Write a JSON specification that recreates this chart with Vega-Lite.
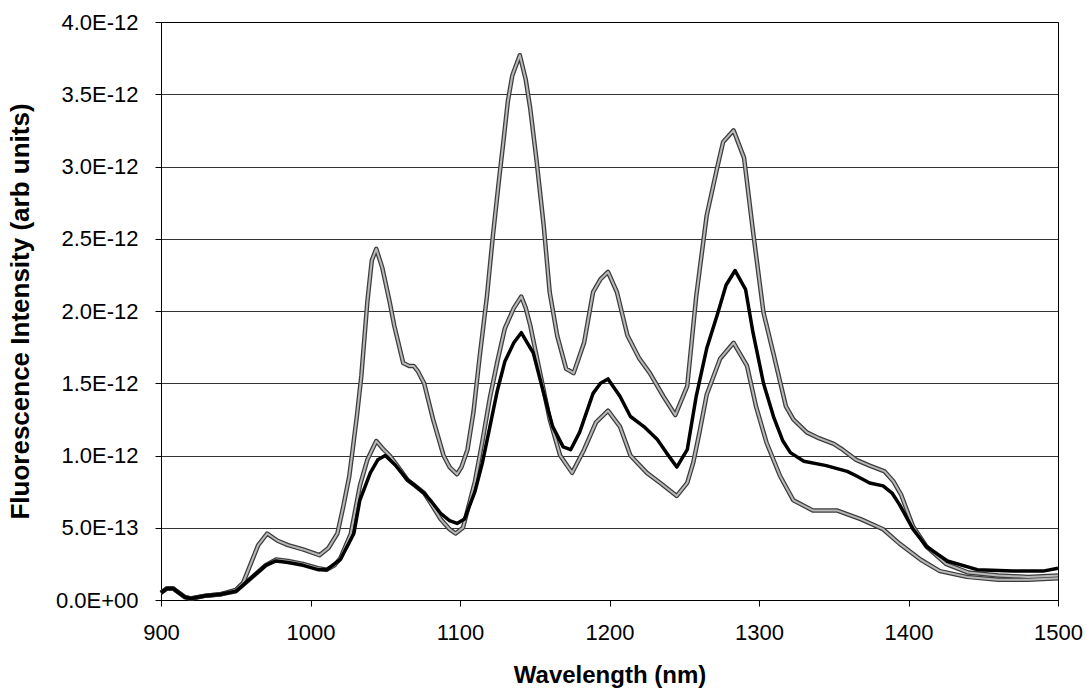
{
  "$schema": "https://vega.github.io/schema/vega-lite/v6.json",
  "autosize": {"type": "none"},
  "padding": {"left": 161, "top": 22, "right": 29, "bottom": 93},
  "width": 897,
  "height": 578,
  "background": "white",
  "config": {
    "font": "Liberation Sans",
    "view": {"stroke": "#000000", "strokeWidth": 1}
  },
  "data": {
    "values": [
      {"series": "upper", "wavelength": 900, "intensity": 0.05e-12},
      {"series": "upper", "wavelength": 904, "intensity": 0.08e-12},
      {"series": "upper", "wavelength": 908, "intensity": 0.08e-12},
      {"series": "upper", "wavelength": 912, "intensity": 0.05e-12},
      {"series": "upper", "wavelength": 916, "intensity": 0.02e-12},
      {"series": "upper", "wavelength": 920, "intensity": 0.01e-12},
      {"series": "upper", "wavelength": 930, "intensity": 0.03e-12},
      {"series": "upper", "wavelength": 940, "intensity": 0.04e-12},
      {"series": "upper", "wavelength": 950, "intensity": 0.07e-12},
      {"series": "upper", "wavelength": 955, "intensity": 0.12e-12},
      {"series": "upper", "wavelength": 960, "intensity": 0.25e-12},
      {"series": "upper", "wavelength": 965, "intensity": 0.38e-12},
      {"series": "upper", "wavelength": 971, "intensity": 0.46e-12},
      {"series": "upper", "wavelength": 978, "intensity": 0.41e-12},
      {"series": "upper", "wavelength": 985, "intensity": 0.38e-12},
      {"series": "upper", "wavelength": 995, "intensity": 0.35e-12},
      {"series": "upper", "wavelength": 1006, "intensity": 0.31e-12},
      {"series": "upper", "wavelength": 1012, "intensity": 0.36e-12},
      {"series": "upper", "wavelength": 1018, "intensity": 0.46e-12},
      {"series": "upper", "wavelength": 1022, "intensity": 0.65e-12},
      {"series": "upper", "wavelength": 1026, "intensity": 0.86e-12},
      {"series": "upper", "wavelength": 1031, "intensity": 1.27e-12},
      {"series": "upper", "wavelength": 1034, "intensity": 1.55e-12},
      {"series": "upper", "wavelength": 1038, "intensity": 2.06e-12},
      {"series": "upper", "wavelength": 1041, "intensity": 2.35e-12},
      {"series": "upper", "wavelength": 1044, "intensity": 2.43e-12},
      {"series": "upper", "wavelength": 1048, "intensity": 2.30e-12},
      {"series": "upper", "wavelength": 1053, "intensity": 2.06e-12},
      {"series": "upper", "wavelength": 1056, "intensity": 1.90e-12},
      {"series": "upper", "wavelength": 1062, "intensity": 1.64e-12},
      {"series": "upper", "wavelength": 1066, "intensity": 1.62e-12},
      {"series": "upper", "wavelength": 1069, "intensity": 1.62e-12},
      {"series": "upper", "wavelength": 1072, "intensity": 1.58e-12},
      {"series": "upper", "wavelength": 1076, "intensity": 1.50e-12},
      {"series": "upper", "wavelength": 1082, "intensity": 1.25e-12},
      {"series": "upper", "wavelength": 1089, "intensity": 1.00e-12},
      {"series": "upper", "wavelength": 1093, "intensity": 0.92e-12},
      {"series": "upper", "wavelength": 1098, "intensity": 0.87e-12},
      {"series": "upper", "wavelength": 1101, "intensity": 0.92e-12},
      {"series": "upper", "wavelength": 1105, "intensity": 1.04e-12},
      {"series": "upper", "wavelength": 1109, "intensity": 1.30e-12},
      {"series": "upper", "wavelength": 1113, "intensity": 1.67e-12},
      {"series": "upper", "wavelength": 1118, "intensity": 2.10e-12},
      {"series": "upper", "wavelength": 1122, "intensity": 2.52e-12},
      {"series": "upper", "wavelength": 1126, "intensity": 2.90e-12},
      {"series": "upper", "wavelength": 1129, "intensity": 3.17e-12},
      {"series": "upper", "wavelength": 1132, "intensity": 3.45e-12},
      {"series": "upper", "wavelength": 1135, "intensity": 3.63e-12},
      {"series": "upper", "wavelength": 1140, "intensity": 3.77e-12},
      {"series": "upper", "wavelength": 1144, "intensity": 3.60e-12},
      {"series": "upper", "wavelength": 1147, "intensity": 3.40e-12},
      {"series": "upper", "wavelength": 1151, "intensity": 3.06e-12},
      {"series": "upper", "wavelength": 1156, "intensity": 2.59e-12},
      {"series": "upper", "wavelength": 1160, "intensity": 2.13e-12},
      {"series": "upper", "wavelength": 1165, "intensity": 1.83e-12},
      {"series": "upper", "wavelength": 1171, "intensity": 1.60e-12},
      {"series": "upper", "wavelength": 1176, "intensity": 1.57e-12},
      {"series": "upper", "wavelength": 1183, "intensity": 1.78e-12},
      {"series": "upper", "wavelength": 1189, "intensity": 2.13e-12},
      {"series": "upper", "wavelength": 1194, "intensity": 2.22e-12},
      {"series": "upper", "wavelength": 1199, "intensity": 2.27e-12},
      {"series": "upper", "wavelength": 1205, "intensity": 2.13e-12},
      {"series": "upper", "wavelength": 1212, "intensity": 1.83e-12},
      {"series": "upper", "wavelength": 1220, "intensity": 1.67e-12},
      {"series": "upper", "wavelength": 1227, "intensity": 1.57e-12},
      {"series": "upper", "wavelength": 1236, "intensity": 1.41e-12},
      {"series": "upper", "wavelength": 1244, "intensity": 1.28e-12},
      {"series": "upper", "wavelength": 1252, "intensity": 1.48e-12},
      {"series": "upper", "wavelength": 1258, "intensity": 2.10e-12},
      {"series": "upper", "wavelength": 1265, "intensity": 2.66e-12},
      {"series": "upper", "wavelength": 1272, "intensity": 2.99e-12},
      {"series": "upper", "wavelength": 1276, "intensity": 3.17e-12},
      {"series": "upper", "wavelength": 1283, "intensity": 3.25e-12},
      {"series": "upper", "wavelength": 1290, "intensity": 3.06e-12},
      {"series": "upper", "wavelength": 1296, "intensity": 2.55e-12},
      {"series": "upper", "wavelength": 1303, "intensity": 1.99e-12},
      {"series": "upper", "wavelength": 1310, "intensity": 1.69e-12},
      {"series": "upper", "wavelength": 1318, "intensity": 1.34e-12},
      {"series": "upper", "wavelength": 1323, "intensity": 1.25e-12},
      {"series": "upper", "wavelength": 1332, "intensity": 1.16e-12},
      {"series": "upper", "wavelength": 1340, "intensity": 1.12e-12},
      {"series": "upper", "wavelength": 1350, "intensity": 1.08e-12},
      {"series": "upper", "wavelength": 1356, "intensity": 1.04e-12},
      {"series": "upper", "wavelength": 1365, "intensity": 0.97e-12},
      {"series": "upper", "wavelength": 1374, "intensity": 0.93e-12},
      {"series": "upper", "wavelength": 1384, "intensity": 0.89e-12},
      {"series": "upper", "wavelength": 1390, "intensity": 0.82e-12},
      {"series": "upper", "wavelength": 1395, "intensity": 0.73e-12},
      {"series": "upper", "wavelength": 1403, "intensity": 0.51e-12},
      {"series": "upper", "wavelength": 1412, "intensity": 0.37e-12},
      {"series": "upper", "wavelength": 1425, "intensity": 0.25e-12},
      {"series": "upper", "wavelength": 1440, "intensity": 0.19e-12},
      {"series": "upper", "wavelength": 1460, "intensity": 0.17e-12},
      {"series": "upper", "wavelength": 1480, "intensity": 0.16e-12},
      {"series": "upper", "wavelength": 1500, "intensity": 0.17e-12},

      {"series": "lower", "wavelength": 900, "intensity": 0.05e-12},
      {"series": "lower", "wavelength": 904, "intensity": 0.08e-12},
      {"series": "lower", "wavelength": 908, "intensity": 0.08e-12},
      {"series": "lower", "wavelength": 912, "intensity": 0.05e-12},
      {"series": "lower", "wavelength": 916, "intensity": 0.02e-12},
      {"series": "lower", "wavelength": 920, "intensity": 0.01e-12},
      {"series": "lower", "wavelength": 930, "intensity": 0.03e-12},
      {"series": "lower", "wavelength": 940, "intensity": 0.04e-12},
      {"series": "lower", "wavelength": 950, "intensity": 0.06e-12},
      {"series": "lower", "wavelength": 960, "intensity": 0.15e-12},
      {"series": "lower", "wavelength": 970, "intensity": 0.24e-12},
      {"series": "lower", "wavelength": 977, "intensity": 0.28e-12},
      {"series": "lower", "wavelength": 985, "intensity": 0.27e-12},
      {"series": "lower", "wavelength": 995, "intensity": 0.25e-12},
      {"series": "lower", "wavelength": 1005, "intensity": 0.22e-12},
      {"series": "lower", "wavelength": 1011, "intensity": 0.21e-12},
      {"series": "lower", "wavelength": 1016, "intensity": 0.24e-12},
      {"series": "lower", "wavelength": 1020, "intensity": 0.29e-12},
      {"series": "lower", "wavelength": 1027, "intensity": 0.46e-12},
      {"series": "lower", "wavelength": 1033, "intensity": 0.79e-12},
      {"series": "lower", "wavelength": 1038, "intensity": 0.97e-12},
      {"series": "lower", "wavelength": 1044, "intensity": 1.10e-12},
      {"series": "lower", "wavelength": 1049, "intensity": 1.04e-12},
      {"series": "lower", "wavelength": 1053, "intensity": 1.00e-12},
      {"series": "lower", "wavelength": 1058, "intensity": 0.93e-12},
      {"series": "lower", "wavelength": 1065, "intensity": 0.83e-12},
      {"series": "lower", "wavelength": 1070, "intensity": 0.79e-12},
      {"series": "lower", "wavelength": 1076, "intensity": 0.74e-12},
      {"series": "lower", "wavelength": 1081, "intensity": 0.66e-12},
      {"series": "lower", "wavelength": 1087, "intensity": 0.56e-12},
      {"series": "lower", "wavelength": 1093, "intensity": 0.49e-12},
      {"series": "lower", "wavelength": 1097, "intensity": 0.46e-12},
      {"series": "lower", "wavelength": 1102, "intensity": 0.50e-12},
      {"series": "lower", "wavelength": 1110, "intensity": 0.82e-12},
      {"series": "lower", "wavelength": 1115, "intensity": 1.10e-12},
      {"series": "lower", "wavelength": 1120, "intensity": 1.40e-12},
      {"series": "lower", "wavelength": 1125, "intensity": 1.65e-12},
      {"series": "lower", "wavelength": 1130, "intensity": 1.88e-12},
      {"series": "lower", "wavelength": 1136, "intensity": 2.02e-12},
      {"series": "lower", "wavelength": 1141, "intensity": 2.10e-12},
      {"series": "lower", "wavelength": 1144, "intensity": 2.02e-12},
      {"series": "lower", "wavelength": 1147, "intensity": 1.90e-12},
      {"series": "lower", "wavelength": 1154, "intensity": 1.55e-12},
      {"series": "lower", "wavelength": 1160, "intensity": 1.25e-12},
      {"series": "lower", "wavelength": 1167, "intensity": 1.00e-12},
      {"series": "lower", "wavelength": 1175, "intensity": 0.88e-12},
      {"series": "lower", "wavelength": 1183, "intensity": 1.04e-12},
      {"series": "lower", "wavelength": 1191, "intensity": 1.23e-12},
      {"series": "lower", "wavelength": 1199, "intensity": 1.31e-12},
      {"series": "lower", "wavelength": 1207, "intensity": 1.20e-12},
      {"series": "lower", "wavelength": 1214, "intensity": 1.00e-12},
      {"series": "lower", "wavelength": 1225, "intensity": 0.88e-12},
      {"series": "lower", "wavelength": 1234, "intensity": 0.81e-12},
      {"series": "lower", "wavelength": 1245, "intensity": 0.72e-12},
      {"series": "lower", "wavelength": 1252, "intensity": 0.81e-12},
      {"series": "lower", "wavelength": 1256, "intensity": 0.95e-12},
      {"series": "lower", "wavelength": 1260, "intensity": 1.15e-12},
      {"series": "lower", "wavelength": 1265, "intensity": 1.42e-12},
      {"series": "lower", "wavelength": 1274, "intensity": 1.67e-12},
      {"series": "lower", "wavelength": 1283, "intensity": 1.78e-12},
      {"series": "lower", "wavelength": 1292, "intensity": 1.62e-12},
      {"series": "lower", "wavelength": 1298, "intensity": 1.34e-12},
      {"series": "lower", "wavelength": 1305, "intensity": 1.09e-12},
      {"series": "lower", "wavelength": 1314, "intensity": 0.86e-12},
      {"series": "lower", "wavelength": 1323, "intensity": 0.69e-12},
      {"series": "lower", "wavelength": 1336, "intensity": 0.62e-12},
      {"series": "lower", "wavelength": 1352, "intensity": 0.62e-12},
      {"series": "lower", "wavelength": 1368, "intensity": 0.56e-12},
      {"series": "lower", "wavelength": 1383, "intensity": 0.49e-12},
      {"series": "lower", "wavelength": 1394, "intensity": 0.39e-12},
      {"series": "lower", "wavelength": 1408, "intensity": 0.28e-12},
      {"series": "lower", "wavelength": 1421, "intensity": 0.20e-12},
      {"series": "lower", "wavelength": 1439, "intensity": 0.16e-12},
      {"series": "lower", "wavelength": 1460, "intensity": 0.14e-12},
      {"series": "lower", "wavelength": 1480, "intensity": 0.14e-12},
      {"series": "lower", "wavelength": 1500, "intensity": 0.15e-12},

      {"series": "middle", "wavelength": 900, "intensity": 0.05e-12},
      {"series": "middle", "wavelength": 904, "intensity": 0.08e-12},
      {"series": "middle", "wavelength": 908, "intensity": 0.08e-12},
      {"series": "middle", "wavelength": 912, "intensity": 0.05e-12},
      {"series": "middle", "wavelength": 916, "intensity": 0.02e-12},
      {"series": "middle", "wavelength": 920, "intensity": 0.01e-12},
      {"series": "middle", "wavelength": 930, "intensity": 0.03e-12},
      {"series": "middle", "wavelength": 940, "intensity": 0.04e-12},
      {"series": "middle", "wavelength": 950, "intensity": 0.06e-12},
      {"series": "middle", "wavelength": 960, "intensity": 0.15e-12},
      {"series": "middle", "wavelength": 970, "intensity": 0.24e-12},
      {"series": "middle", "wavelength": 977, "intensity": 0.27e-12},
      {"series": "middle", "wavelength": 985, "intensity": 0.26e-12},
      {"series": "middle", "wavelength": 995, "intensity": 0.24e-12},
      {"series": "middle", "wavelength": 1005, "intensity": 0.21e-12},
      {"series": "middle", "wavelength": 1011, "intensity": 0.21e-12},
      {"series": "middle", "wavelength": 1016, "intensity": 0.25e-12},
      {"series": "middle", "wavelength": 1020, "intensity": 0.28e-12},
      {"series": "middle", "wavelength": 1025, "intensity": 0.38e-12},
      {"series": "middle", "wavelength": 1029, "intensity": 0.46e-12},
      {"series": "middle", "wavelength": 1033, "intensity": 0.69e-12},
      {"series": "middle", "wavelength": 1040, "intensity": 0.88e-12},
      {"series": "middle", "wavelength": 1045, "intensity": 0.97e-12},
      {"series": "middle", "wavelength": 1050, "intensity": 1.00e-12},
      {"series": "middle", "wavelength": 1057, "intensity": 0.93e-12},
      {"series": "middle", "wavelength": 1065, "intensity": 0.83e-12},
      {"series": "middle", "wavelength": 1070, "intensity": 0.79e-12},
      {"series": "middle", "wavelength": 1076, "intensity": 0.74e-12},
      {"series": "middle", "wavelength": 1081, "intensity": 0.68e-12},
      {"series": "middle", "wavelength": 1087, "intensity": 0.60e-12},
      {"series": "middle", "wavelength": 1093, "intensity": 0.55e-12},
      {"series": "middle", "wavelength": 1098, "intensity": 0.53e-12},
      {"series": "middle", "wavelength": 1103, "intensity": 0.56e-12},
      {"series": "middle", "wavelength": 1110, "intensity": 0.75e-12},
      {"series": "middle", "wavelength": 1115, "intensity": 0.95e-12},
      {"series": "middle", "wavelength": 1120, "intensity": 1.20e-12},
      {"series": "middle", "wavelength": 1125, "intensity": 1.45e-12},
      {"series": "middle", "wavelength": 1130, "intensity": 1.65e-12},
      {"series": "middle", "wavelength": 1136, "intensity": 1.78e-12},
      {"series": "middle", "wavelength": 1141, "intensity": 1.85e-12},
      {"series": "middle", "wavelength": 1145, "intensity": 1.78e-12},
      {"series": "middle", "wavelength": 1149, "intensity": 1.71e-12},
      {"series": "middle", "wavelength": 1156, "intensity": 1.43e-12},
      {"series": "middle", "wavelength": 1162, "intensity": 1.20e-12},
      {"series": "middle", "wavelength": 1169, "intensity": 1.06e-12},
      {"series": "middle", "wavelength": 1174, "intensity": 1.04e-12},
      {"series": "middle", "wavelength": 1180, "intensity": 1.16e-12},
      {"series": "middle", "wavelength": 1189, "intensity": 1.43e-12},
      {"series": "middle", "wavelength": 1194, "intensity": 1.50e-12},
      {"series": "middle", "wavelength": 1199, "intensity": 1.53e-12},
      {"series": "middle", "wavelength": 1207, "intensity": 1.41e-12},
      {"series": "middle", "wavelength": 1214, "intensity": 1.27e-12},
      {"series": "middle", "wavelength": 1223, "intensity": 1.20e-12},
      {"series": "middle", "wavelength": 1232, "intensity": 1.11e-12},
      {"series": "middle", "wavelength": 1238, "intensity": 1.02e-12},
      {"series": "middle", "wavelength": 1245, "intensity": 0.92e-12},
      {"series": "middle", "wavelength": 1252, "intensity": 1.04e-12},
      {"series": "middle", "wavelength": 1258, "intensity": 1.41e-12},
      {"series": "middle", "wavelength": 1265, "intensity": 1.74e-12},
      {"series": "middle", "wavelength": 1272, "intensity": 1.97e-12},
      {"series": "middle", "wavelength": 1278, "intensity": 2.18e-12},
      {"series": "middle", "wavelength": 1284, "intensity": 2.28e-12},
      {"series": "middle", "wavelength": 1291, "intensity": 2.15e-12},
      {"series": "middle", "wavelength": 1296, "intensity": 1.85e-12},
      {"series": "middle", "wavelength": 1303, "intensity": 1.50e-12},
      {"series": "middle", "wavelength": 1310, "intensity": 1.26e-12},
      {"series": "middle", "wavelength": 1316, "intensity": 1.10e-12},
      {"series": "middle", "wavelength": 1321, "intensity": 1.02e-12},
      {"series": "middle", "wavelength": 1330, "intensity": 0.96e-12},
      {"series": "middle", "wavelength": 1345, "intensity": 0.93e-12},
      {"series": "middle", "wavelength": 1359, "intensity": 0.89e-12},
      {"series": "middle", "wavelength": 1365, "intensity": 0.86e-12},
      {"series": "middle", "wavelength": 1374, "intensity": 0.81e-12},
      {"series": "middle", "wavelength": 1383, "intensity": 0.79e-12},
      {"series": "middle", "wavelength": 1389, "intensity": 0.74e-12},
      {"series": "middle", "wavelength": 1394, "intensity": 0.66e-12},
      {"series": "middle", "wavelength": 1403, "intensity": 0.49e-12},
      {"series": "middle", "wavelength": 1412, "intensity": 0.37e-12},
      {"series": "middle", "wavelength": 1426, "intensity": 0.27e-12},
      {"series": "middle", "wavelength": 1446, "intensity": 0.21e-12},
      {"series": "middle", "wavelength": 1470, "intensity": 0.20e-12},
      {"series": "middle", "wavelength": 1490, "intensity": 0.20e-12},
      {"series": "middle", "wavelength": 1500, "intensity": 0.22e-12}
    ]
  },
  "encoding": {
    "x": {
      "field": "wavelength",
      "type": "quantitative",
      "scale": {"domain": [900, 1500], "nice": false, "zero": false},
      "axis": {
        "title": "Wavelength (nm)",
        "values": [900, 1000, 1100, 1200, 1300, 1400, 1500],
        "format": "d",
        "grid": false,
        "labelFlush": false,
        "labelOverlap": false,
        "domainColor": "#000000",
        "tickColor": "#000000",
        "tickSize": 6,
        "labelFontSize": 22,
        "labelColor": "#000000",
        "labelPadding": 16,
        "titleFontSize": 24,
        "titleFontWeight": "bold",
        "titleColor": "#000000",
        "titlePadding": 20
      }
    },
    "y": {
      "field": "intensity",
      "type": "quantitative",
      "scale": {"domain": [0, 4e-12], "nice": false},
      "axis": {
        "title": "Fluorescence Intensity (arb units)",
        "values": [0, 5e-13, 1e-12, 1.5e-12, 2e-12, 2.5e-12, 3e-12, 3.5e-12, 4e-12],
        "labelExpr": "datum.value == 0 ? '0.0E+00' : (datum.value < 9e-13 ? format(datum.value * 1e13, '.1f') + 'E-13' : format(datum.value * 1e12, '.1f') + 'E-12')",
        "labelFlush": false,
        "labelOverlap": false,
        "grid": true,
        "gridColor": "#000000",
        "gridOpacity": 0.8,
        "gridWidth": 1,
        "domainColor": "#000000",
        "tickColor": "#000000",
        "tickSize": 6,
        "labelFontSize": 22,
        "labelColor": "#000000",
        "labelPadding": 17,
        "titleFontSize": 26,
        "titleFontWeight": "bold",
        "titleColor": "#000000",
        "titlePadding": 22
      }
    }
  },
  "layer": [
    {
      "transform": [{"filter": "datum.series != 'middle'"}],
      "mark": {"type": "line", "stroke": "#3c3c3c", "strokeWidth": 4.5, "strokeJoin": "round"},
      "encoding": {"detail": {"field": "series"}}
    },
    {
      "transform": [{"filter": "datum.series != 'middle'"}],
      "mark": {"type": "line", "stroke": "#b8b8b8", "strokeWidth": 2, "strokeJoin": "round"},
      "encoding": {"detail": {"field": "series"}}
    },
    {
      "transform": [{"filter": "datum.series == 'middle'"}],
      "mark": {"type": "line", "stroke": "#000000", "strokeWidth": 3.5, "strokeJoin": "round"},
      "encoding": {"detail": {"field": "series"}}
    }
  ]
}
